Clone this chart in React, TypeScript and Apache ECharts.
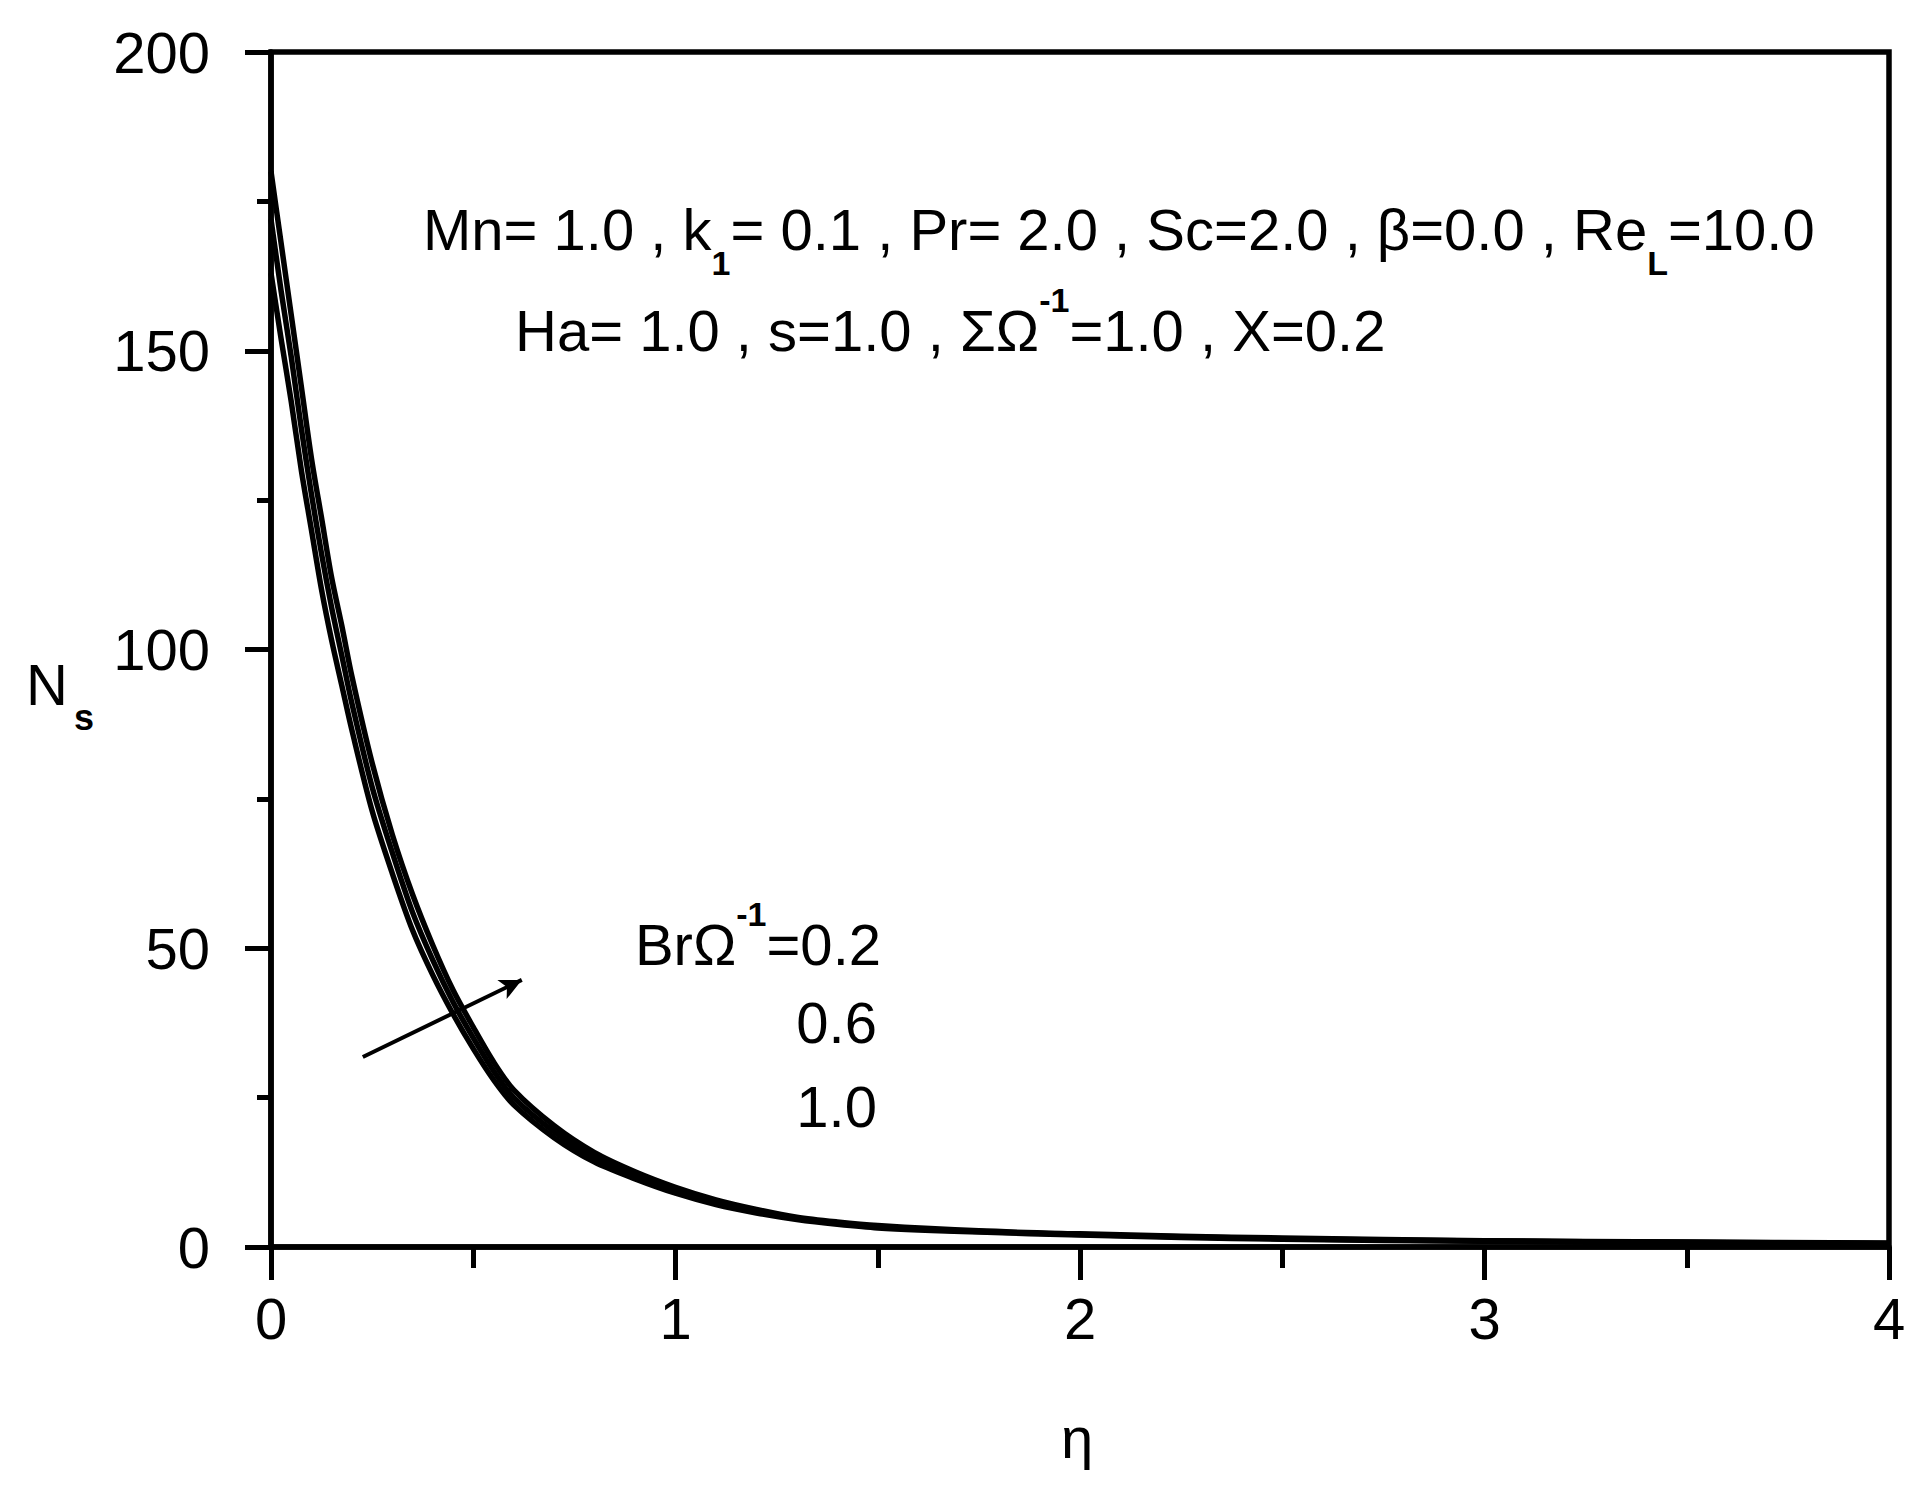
import React, { useEffect, useRef } from "react";
import * as echarts from "echarts";

// eta grid (x axis)
const etaValues = [0, 0.025, 0.05, 0.075, 0.1, 0.125, 0.15, 0.175, 0.2, 0.25, 0.3, 0.35, 0.4, 0.45, 0.5, 0.55, 0.6, 0.7, 0.8, 0.9, 1.0, 1.1, 1.2, 1.3, 1.4, 1.5, 1.75, 2.0, 2.25, 2.5, 3.0, 3.5, 4.0];
// N_s for Br*Omega^-1 = 0.2, 0.6, 1.0
const nsBr02 = [163, 152, 141.5, 130, 120, 110, 101.5, 94, 86.5, 73, 62.5, 53, 45.5, 39, 33.2, 28, 23.8, 18.3, 14.2, 11.4, 9, 7.1, 5.7, 4.6, 3.8, 3.2, 2.5, 2, 1.6, 1.3, 0.95, 0.75, 0.55];
const nsBr06 = [172, 160, 149, 137, 126, 116, 107, 99, 91, 77, 66, 56, 48, 41, 35, 29.5, 25, 19.3, 15, 12, 9.5, 7.5, 6, 4.8, 4, 3.4, 2.6, 2.1, 1.7, 1.4, 1.0, 0.8, 0.6];
const nsBr10 = [180, 168, 156, 144, 132, 122, 112, 104, 95.5, 81, 69, 59, 50.5, 43, 36.8, 31, 26.3, 20.3, 15.8, 12.6, 10, 7.9, 6.3, 5, 4.2, 3.6, 2.7, 2.2, 1.8, 1.5, 1.05, 0.85, 0.65];
const seriesNames = ["0.2", "0.6", "1.0"];
const xRange = [0, 4];
const yRange = [0, 200];
// arrow annotation in data coordinates
const arrowFrom = [0.227, 31.8];
const arrowTo = [0.62, 44.7];

const FONT = "'Liberation Sans', Arial, sans-serif";

export default function App() {
  const ref = useRef<HTMLDivElement>(null);
  useEffect(() => {
    document.body.style.margin = "0";
    const chart = echarts.init(ref.current!, null, { renderer: "svg" });
    const pair = (ys: number[]) => etaValues.map((x, i) => [x, ys[i]]);
    const main = { fontSize: 58, fontFamily: FONT, fill: "#000", lineHeight: 60, padding: [20, 0, 0, 0], verticalAlign: "top" };
    const sub = { fontSize: 34, fontFamily: FONT, fontWeight: "bold", fill: "#000", lineHeight: 34, padding: [66, 0, 0, 0], verticalAlign: "top" };
    const sup = { fontSize: 34, fontFamily: FONT, fontWeight: "bold", fill: "#000", lineHeight: 34, padding: [2, 0, 0, 0], verticalAlign: "top" };
    const rich = { m: main, s: sub, p: sup };
    const lineSeries = [nsBr02, nsBr06, nsBr10].map((d, i) => ({
      type: "line",
      name: seriesNames[i],
      data: pair(d),
      showSymbol: false,
      smooth: 0.3,
      lineStyle: { color: "#000", width: 5.5, join: "round" },
      z: 3,
      markLine: i === 0 ? {
        silent: true,
        symbol: ["none", "arrow"],
        symbolSize: [16, 22],
        lineStyle: { color: "#000", width: 4, type: "solid" },
        label: { show: false },
        data: [[{ coord: arrowFrom }, { coord: arrowTo }]],
      } : undefined,
    }));
    const axisText = { fontSize: 58, fontFamily: FONT, color: "#000" };
    chart.setOption({
      animation: false,
      backgroundColor: "#fff",
      grid: { left: 271, top: 52, width: 1618, height: 1195, show: true, borderColor: "#000", borderWidth: 5.5, backgroundColor: "transparent" },
      xAxis: {
        type: "value", min: xRange[0], max: xRange[1], interval: 1,
        axisLine: { show: true, lineStyle: { color: "#000", width: 5.5 } },
        axisTick: { show: true, length: 33, lineStyle: { color: "#000", width: 5 } },
        minorTick: { show: true, splitNumber: 2, length: 21, lineStyle: { color: "#000", width: 5 } },
        splitLine: { show: false },
        axisLabel: { ...axisText, margin: 42 },
      },
      yAxis: {
        type: "value", min: yRange[0], max: yRange[1], interval: 50,
        axisLine: { show: true, lineStyle: { color: "#000", width: 5.5 } },
        axisTick: { show: true, length: 26, lineStyle: { color: "#000", width: 5 } },
        minorTick: { show: true, splitNumber: 2, length: 14, lineStyle: { color: "#000", width: 5 } },
        splitLine: { show: false },
        axisLabel: { ...axisText, margin: 61 },
      },
      series: lineSeries,
      graphic: [
        { type: "text", x: 423, y: 180, style: { text: "{m|Mn= 1.0 , k}{s|1}{m|= 0.1 , Pr= 2.0 , Sc=2.0 , β=0.0 , Re}{s|L}{m|=10.0}", rich, align: "left", verticalAlign: "top" } },
        { type: "text", x: 515, y: 281, style: { text: "{m|Ha= 1.0 , s=1.0 , ΣΩ}{p|-1}{m|=1.0 , X=0.2}", rich, align: "left", verticalAlign: "top" } },
        { type: "text", x: 881, y: 895, style: { text: "{m|BrΩ}{p|-1}{m|=" + seriesNames[0] + "}", rich, align: "right", verticalAlign: "top" } },
        { type: "text", x: 877, y: 1022, style: { text: seriesNames[1], font: "58px " + FONT, fill: "#000", align: "right", verticalAlign: "middle" } },
        { type: "text", x: 877, y: 1106, style: { text: seriesNames[2], font: "58px " + FONT, fill: "#000", align: "right", verticalAlign: "middle" } },
        { type: "text", x: 26, y: 635, style: { text: "{m|N}{s|s}", rich: { m: main, s: { ...sub, fontSize: 36, lineHeight: 36, padding: [64, 0, 0, 6] } }, align: "left", verticalAlign: "top" } },
        { type: "text", x: 1077, y: 1437, style: { text: "η", font: "58px " + FONT, fill: "#000", align: "center", verticalAlign: "middle" } },
      ],
    });
    return () => chart.dispose();
  }, []);
  return <div ref={ref} style={{ width: 1928, height: 1486 }} />;
}
